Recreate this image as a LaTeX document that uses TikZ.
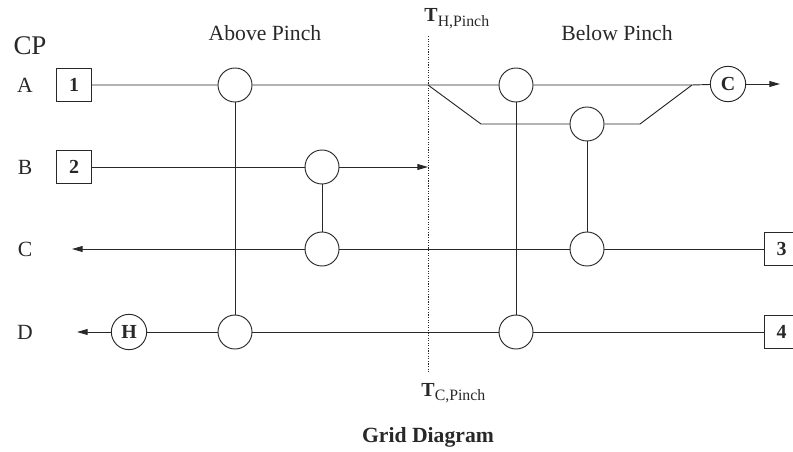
\documentclass[tikz,border=0pt]{standalone}
\usepackage{fontspec}
\setmainfont{Liberation Serif}
\usetikzlibrary{arrows.meta,calc,positioning}
\definecolor{gridK}{RGB}{40,40,40}

\newcommand{\pinchlbl}[1]{{\fontsize{17}{19}\selectfont\bfseries T}\raisebox{-0.45ex}{\fontsize{13.5}{15}\selectfont #1,Pinch}}

\begin{document}
\begin{tikzpicture}[x=0.03cm,y=-0.03cm,line width=0.8pt,draw=gridK,
  every node/.style={font=\fontsize{18.5}{20}\selectfont,text=gridK},
  stream/.style={draw,minimum width=1.05cm,minimum height=0.99cm,inner sep=0pt,font=\fontsize{17}{19}\selectfont\bfseries},
  hx/.style={draw,circle,minimum size=1.02cm,inner sep=0pt},
  util/.style={draw,circle,minimum size=1.06cm,inner sep=0pt,font=\fontsize{17}{19}\selectfont\bfseries},
  flow/.style={-{Triangle[length=9pt,width=5pt]}}]
\useasboundingbox (0,0) rectangle (793,451);
% headings
\node (cp) at (30,46) {\fontsize{23}{25}\selectfont CP};
\node (above) at (265,33) {Above Pinch};
\node (below) at (617,33) {Below Pinch};
\node[anchor=base west,inner sep=0pt] (th) at (424,22) {\pinchlbl{H}};
\node[anchor=base west,inner sep=0pt] (tc) at (421,396) {\pinchlbl{C}};
\node (title) at (428,437) {\fontsize{18.5}{20}\selectfont\bfseries Grid Diagram};
\foreach \r/\y in {A/85,B/167,C/249,D/332} \node (lab\r) at (25,\y) {\r};
% streams
\node[stream] (s1) at (74,85) {1};
\node[stream] (s2) at (74,167) {2};
\node[stream] (s3) at (781.5,249) {3};
\node[stream] (s4) at (781.5,332) {4};
% exchangers
\node[hx] (hA1) at (235,85) {};
\node[hx] (hD1) at (235,332) {};
\node[hx] (hB1) at (322,167) {};
\node[hx] (hC1) at (322,249) {};
\node[hx] (hA2) at (516,85) {};
\node[hx] (hD2) at (516,332) {};
\node[hx] (hS) at (587,124) {};
\node[hx] (hC2) at (587,249) {};
\node[util] (cool) at (728,84) {C};
\node[util] (heat) at (129,332) {H};
\coordinate (split) at (428,85);
\coordinate (sL) at (481,124);
\coordinate (sR) at (640,124);
\coordinate (mix) at (692,85);
\coordinate (endA) at (780,84);
\coordinate (endB) at (428,167);
\coordinate (endC) at (72,249);
\coordinate (endD) at (77,332);
\coordinate (ptop) at (428,36);
\coordinate (pbot) at (428,373);
% pinch
\draw[line width=0.7pt,dash pattern=on 1pt off 1.2pt] (ptop) -- (pbot);
% hot streams
\draw (s1) -- (hA1) -- (split) -- (hA2) -- (mix) -- (cool);
\draw[flow] (cool) -- (endA);
\draw (split) -- (sL) -- (hS) -- (sR) -- (mix);
\draw[flow] (s2) -- (hB1) -- (endB);
% cold streams
\draw[flow] (s3) -- (hC2) -- (hC1) -- (endC);
\draw[flow] (s4) -- (hD2) -- (hD1) -- (heat) -- (endD);
% matches
\draw (hA1) -- (hD1);
\draw (hB1) -- (hC1);
\draw (hA2) -- (hD2);
\draw (hS) -- (hC2);
\end{tikzpicture}
\end{document}
